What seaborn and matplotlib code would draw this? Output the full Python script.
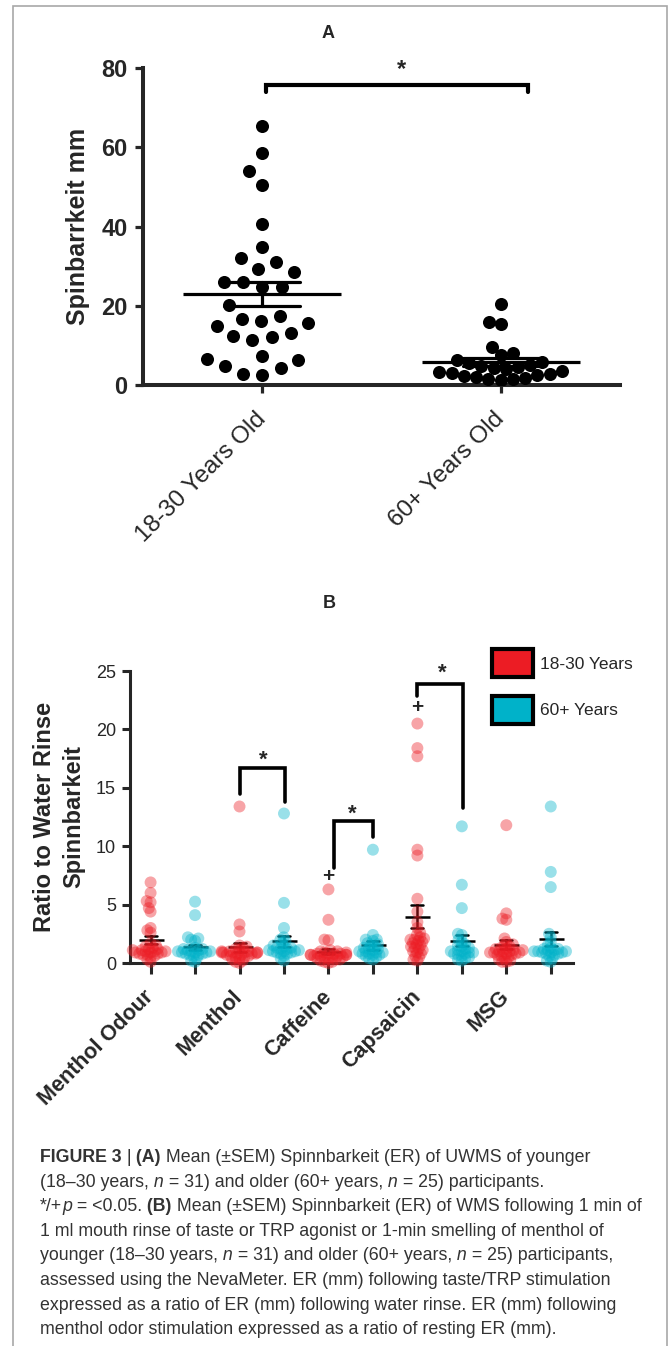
import numpy as np
import pandas as pd
import matplotlib
matplotlib.use('Agg')
import matplotlib.pyplot as plt
from matplotlib.collections import PathCollection
from matplotlib.patches import Patch, Rectangle
import seaborn as sns

# panel A - unstimulated spinnbarkeit (mm) per participant
groups_a = ['18-30 Years Old', '60+ Years Old']
young_mm = [65.3, 58.5, 53.9, 50.4, 40.7, 34.9, 31.0, 32.0, 29.3, 28.5, 25.9,
            25.9, 24.7, 24.7, 20.2, 15.6, 16.6, 17.3, 15.0, 16.2, 13.2, 12.2,
            11.4, 12.4, 7.3, 6.3, 6.5, 4.2, 4.8, 2.5, 2.7]
old_mm = [20.4, 16.0, 15.4, 9.7, 8.0, 7.6, 6.3, 5.9, 5.5, 5.0, 4.8, 4.5, 4.2,
          4.0, 3.5, 3.2, 3.0, 2.8, 2.5, 2.2, 2.0, 1.8, 1.6, 1.5, 1.3]

# panel B - spinnbarkeit as ratio to water rinse
conditions = ['Menthol Odour', 'Menthol', 'Caffeine', 'Capsaicin', 'MSG']
age_groups = ['18-30 Years', '60+ Years']

odour_young = [6.9, 6.0, 5.3, 5.2, 4.7, 4.4, 3.0, 2.8, 2.6, 1.7, 1.5, 1.4, 1.3,
               1.2, 1.2, 1.1, 1.1, 1.0, 1.0, 1.0, 0.9, 0.9, 0.9, 0.8, 0.8, 0.7,
               0.7, 0.6, 0.5, 0.3, 0.1]
odour_old = [5.25, 4.1, 2.2, 2.1, 2.0, 1.9, 1.3, 1.2, 1.2, 1.1, 1.1, 1.0, 1.0,
             1.0, 0.9, 0.9, 0.9, 0.8, 0.8, 0.7, 0.7, 0.6, 0.4, 0.2, 0.1]
menthol_young = [13.4, 3.3, 2.7, 1.5, 1.4, 1.3, 1.2, 1.1, 1.0, 1.0, 1.0, 0.9,
                 0.9, 0.9, 0.9, 0.9, 0.9, 0.8, 0.8, 0.8, 0.7, 0.7, 0.6, 0.6,
                 0.5, 0.5, 0.4, 0.3, 0.2, 0.1, 0.0]
menthol_old = [12.8, 5.15, 3.0, 2.2, 2.0, 1.9, 1.7, 1.5, 1.4, 1.3, 1.3, 1.2,
               1.2, 1.1, 1.1, 1.0, 1.0, 1.0, 0.9, 0.9, 0.8, 0.8, 0.6, 0.4, 0.2]
caffeine_young = [6.3, 3.7, 2.0, 1.95, 1.1, 1.0, 1.0, 0.9, 0.9, 0.8, 0.8, 0.8,
                  0.8, 0.7, 0.7, 0.7, 0.7, 0.6, 0.6, 0.6, 0.5, 0.5, 0.5, 0.4,
                  0.4, 0.3, 0.3, 0.2, 0.1, 0.1, 0.0]
caffeine_old = [9.7, 2.4, 2.0, 2.0, 1.9, 1.7, 1.6, 1.5, 1.4, 1.3, 1.2, 1.2,
                1.1, 1.0, 1.0, 0.9, 0.9, 0.8, 0.8, 0.7, 0.7, 0.6, 0.5, 0.4, 0.3]
capsaicin_young = [20.5, 18.4, 17.7, 9.7, 9.2, 5.5, 4.4, 3.5, 3.0, 2.6, 2.4,
                   2.2, 2.1, 2.0, 2.0, 1.9, 1.8, 1.7, 1.6, 1.5, 1.4, 1.3, 1.2,
                   1.1, 1.0, 0.9, 0.8, 0.6, 0.5, 0.3, 0.2]
capsaicin_old = [11.7, 6.7, 4.7, 2.5, 2.4, 2.0, 1.8, 1.6, 1.5, 1.4, 1.3, 1.2,
                 1.1, 1.0, 1.0, 0.9, 0.9, 0.8, 0.8, 0.7, 0.6, 0.5, 0.4, 0.3, 0.2]
msg_young = [11.8, 4.25, 3.8, 3.7, 2.1, 1.8, 1.6, 1.5, 1.4, 1.3, 1.2, 1.2, 1.1,
             1.1, 1.0, 1.0, 1.0, 0.9, 0.9, 0.9, 0.8, 0.8, 0.7, 0.7, 0.6, 0.5,
             0.4, 0.3, 0.2, 0.1, 0.1]
msg_old = [13.4, 7.8, 6.5, 2.5, 2.2, 1.8, 1.5, 1.3, 1.2, 1.2, 1.1, 1.1, 1.0,
           1.0, 1.0, 0.9, 0.9, 0.9, 0.8, 0.8, 0.7, 0.6, 0.4, 0.2, 0.1]

RED = '#EC1C24'
CYAN = '#00B2C9'

sns.set_style('ticks')
plt.rcParams['font.family'] = ['Liberation Sans', 'DejaVu Sans']

# long-form tables
df_a = pd.DataFrame({
    'group': [groups_a[0]] * len(young_mm) + [groups_a[1]] * len(old_mm),
    'value': young_mm + old_mm})

series_b = [odour_young, odour_old, menthol_young, menthol_old, caffeine_young,
            caffeine_old, capsaicin_young, capsaicin_old, msg_young, msg_old]
slots = [f'{c} | {a}' for c in conditions for a in age_groups]
rows = []
for k, vals in enumerate(series_b):
    for v in vals:
        rows.append((slots[k], age_groups[k % 2], v))
df_b = pd.DataFrame(rows, columns=['slot', 'age', 'value'])

W, H = 670, 1346
fig = plt.figure(figsize=(W / 100, H / 100), dpi=100)


def px_axes(left, top, right, bottom):
    return fig.add_axes([left / W, 1 - bottom / H, (right - left) / W,
                         (bottom - top) / H])


# ---------------- panel A
axA = px_axes(143, 68, 620, 385)
# the swarms are laid out with a different dot size than the one drawn,
# to get the looser / tighter packing of the original scatter columns
sns.swarmplot(data=df_a[df_a['group'] == groups_a[0]], x='group', y='value',
              order=groups_a, color='black', size=13.5, ax=axA)
sns.swarmplot(data=df_a[df_a['group'] == groups_a[1]], x='group', y='value',
              order=groups_a, color='black', size=8.5, ax=axA)
sns.pointplot(data=df_a, x='group', y='value', order=groups_a, errorbar='se',
              color='black', markers='_', markersize=114, markeredgewidth=2.3,
              capsize=0.32, linestyle='none', err_kws={'linewidth': 2.3},
              ax=axA)
axA.set_xlim(-0.5, 1.5)
axA.set_ylim(0, 80)
axA.set_yticks([0, 20, 40, 60, 80])
axA.set_xlabel('')
axA.set_ylabel('Spinbarrkeit mm', fontsize=18, fontweight='bold', labelpad=8)
sns.despine(ax=axA)
for s in ['left', 'bottom']:
    axA.spines[s].set_linewidth(2.9)
axA.tick_params(axis='both', width=2.3, length=6, pad=5)
for lbl in axA.get_yticklabels():
    lbl.set_fontweight('bold')
    lbl.set_fontsize(17)
axA.set_xticks([0, 1])
axA.set_xticklabels(groups_a, rotation=45, ha='right', va='center',
                    rotation_mode='anchor', fontsize=17.5)
axA.tick_params(axis='x', pad=16)
axA.plot([0.015, 0.015, 1.113, 1.113], [74.0, 75.7, 75.7, 74.0], color='black',
         lw=3, clip_on=False, solid_joinstyle='miter')
axA.text(0.585, 79.6, '*', ha='center', va='center', fontsize=17,
         fontweight='bold')
fig.text(328 / W, 1 - 33 / H, 'A', ha='center', va='center', fontsize=13,
         fontweight='bold')

# ---------------- panel B
axB = px_axes(130, 671, 573, 963)
sns.swarmplot(data=df_b, x='slot', y='value', hue='age', order=slots,
              hue_order=age_groups, palette=[RED, CYAN], size=2.8,
              alpha=0.4, linewidth=0, legend=False, ax=axB)
sns.pointplot(data=df_b, x='slot', y='value', hue='age', order=slots,
              hue_order=age_groups, palette=['black', 'black'], errorbar='se',
              markers='_', markersize=18, markeredgewidth=1.8,
              capsize=0.27, linestyle='none', err_kws={'linewidth': 1.8},
              legend=False, ax=axB)
for c in axB.collections:
    c.set_clip_on(False)
axB.set_xlim(-0.463, 9.5)
axB.set_ylim(0, 25)
axB.set_yticks([0, 5, 10, 15, 20, 25])
axB.set_xlabel('')
axB.set_ylabel('Ratio to Water Rinse\nSpinnbarkeit', fontsize=17,
               fontweight='bold', linespacing=1.3, labelpad=8)
sns.despine(ax=axB)
for s in ['left', 'bottom']:
    axB.spines[s].set_linewidth(2.2)
axB.tick_params(axis='both', width=2.2, length=6, labelsize=13, pad=4)
axB.tick_params(axis='x', length=8, pad=14)
tick_lab = []
for name in conditions:
    tick_lab += [name, '']
axB.set_xticks(range(len(slots)))
axB.set_xticklabels(tick_lab, rotation=45, ha='right', va='center',
                    rotation_mode='anchor', fontsize=15.5, fontweight='bold')

# significance brackets
brackets = [(2.02, 3.02, 16.7, 14.5, 13.8), (4.13, 5.0, 12.15, 8.1, 10.8),
            (6.0, 7.03, 23.85, 22.9, 13.25)]
for x0, x1, top, l0, l1 in brackets:
    axB.plot([x0, x0, x1, x1], [l0, top, top, l1], color='black', lw=2.6,
             clip_on=False, solid_joinstyle='miter')
for x, y in [(2.54, 17.4), (4.53, 12.7), (6.56, 24.8)]:
    axB.text(x, y, '*', ha='center', va='center', fontsize=16,
             fontweight='bold')
for x, y in [(4.0, 7.4), (6.0, 21.85)]:
    axB.text(x, y, '+', ha='center', va='center', fontsize=15,
             fontweight='bold')
fig.text(329 / W, 1 - 604 / H, 'B', ha='center', va='center', fontsize=13,
         fontweight='bold')

handles = [Patch(facecolor=RED, edgecolor='black', linewidth=3),
           Patch(facecolor=CYAN, edgecolor='black', linewidth=3)]
fig.legend(handles, age_groups, loc='upper left',
           bbox_to_anchor=(492 / W, 1 - 649 / H), frameon=False, fontsize=12.5,
           handlelength=2.36, handleheight=2.13, labelspacing=1.05,
           handletextpad=0.4, borderpad=0, borderaxespad=0)

# outer frame
fig.patches.append(Rectangle((13 / W, -0.01), (667 - 13) / W, 1.01 - 6 / H,
                             transform=fig.transFigure, fill=False,
                             edgecolor='#a8a8a8', linewidth=1.2))

# ---------------- caption
renderer = fig.canvas.get_renderer()
cap_lines = [
    [('FIGURE 3', 'b'), (' |', 'n'), (' (A)', 'b'),
     (' Mean (±SEM) Spinnbarkeit (ER) of UWMS of younger', 'n')],
    [('(18–30 years,', 'n'), (' n', 'i'), (' = 31) and older (60+ years,', 'n'),
     (' n', 'i'), (' = 25) participants.', 'n')],
    [('*/+', 'n'), ('p', 'i'), (' = <0.05.', 'n'), (' (B)', 'b'),
     (' Mean (±SEM) Spinnbarkeit (ER) of WMS following 1 min of', 'n')],
    [('1 ml mouth rinse of taste or TRP agonist or 1-min smelling of menthol of', 'n')],
    [('younger (18–30 years,', 'n'), (' n', 'i'),
     (' = 31) and older (60+ years,', 'n'), (' n', 'i'),
     (' = 25) participants,', 'n')],
    [('assessed using the NevaMeter. ER (mm) following taste/TRP stimulation', 'n')],
    [('expressed as a ratio of ER (mm) following water rinse. ER (mm) following', 'n')],
    [('menthol odor stimulation expressed as a ratio of resting ER (mm).', 'n')],
]
for k, parts in enumerate(cap_lines):
    x = 40 / W
    y = 1 - (1162 + k * 24.6) / H
    for txt, st in parts:
        t = fig.text(x, y, txt, fontsize=12.8, color='#333333', va='baseline',
                     fontweight='bold' if st == 'b' else 'normal',
                     fontstyle='italic' if st == 'i' else 'normal')
        x += t.get_window_extent(renderer).width / W

# first draw fixes the swarm positions; then set the drawn dot sizes
fig.canvas.draw()
for ax, dot in [(axA, 9.4), (axB, 8.6)]:
    for c in ax.collections:
        if isinstance(c, PathCollection):
            if 'draw' in c.__dict__:
                del c.draw
            c.set_sizes([dot ** 2])

fig.savefig('out.png', dpi=100)
